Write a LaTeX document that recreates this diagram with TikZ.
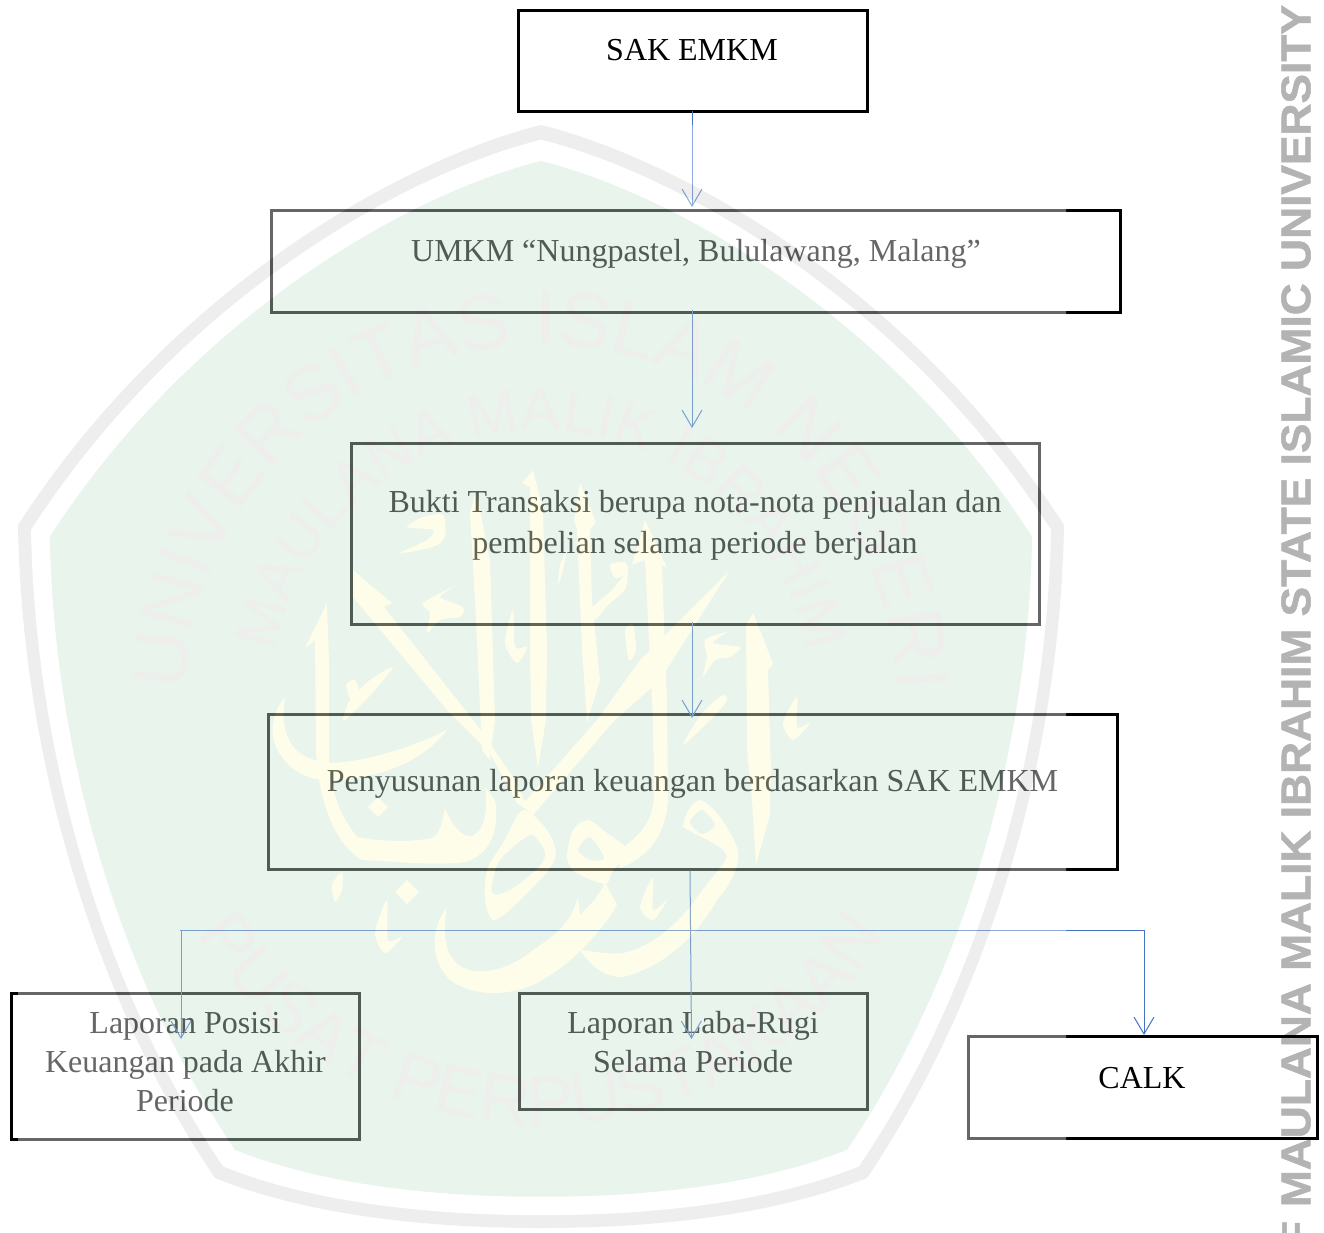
\documentclass[tikz,border=0pt]{standalone}
\usepackage{fontspec}
\setmainfont{Liberation Serif}
\setsansfont{Liberation Sans}
\newfontfamily\sidefont[FakeBold=1.2]{Liberation Sans Bold}
\usetikzlibrary{arrows.meta,decorations.text}
\definecolor{wmgreen}{HTML}{C8E4D4}
\definecolor{wmgray}{HTML}{D6D6D6}
\definecolor{wmyellow}{HTML}{FAFBC8}
\definecolor{wmtext}{HTML}{D6D6D2}
\definecolor{linkblue}{HTML}{4472C4}
\definecolor{sidegray}{HTML}{B3B3B3}
\newcommand{\shieldlayer}[2]{%
  \fill[#1,shift={(541,715)},scale=#2,shift={(-541,-715)}]
    (541,125) .. controls (400,160) and (170,290) .. (18,525)
    .. controls (22,760) and (95,1000) .. (215,1178)
    .. controls (320,1220) and (450,1228) .. (541,1228)
    .. controls (632,1228) and (762,1220) .. (867,1178)
    .. controls (987,1000) and (1060,760) .. (1064,525)
    .. controls (912,290) and (682,160) .. (541,125) -- cycle;}
\newcommand{\blob}[1]{\fill[wmyellow] plot[smooth cycle,tension=.45] coordinates {#1};}
\tikzset{
  x=1pt,y=-1pt,
  flowbox/.style={draw=black,line width=3pt,rectangle,inner sep=0pt},
  flowtext/.style={font=\fontsize{32}{39}\selectfont,align=center,anchor=base,inner sep=0pt},
  flowlink/.style={draw=linkblue,line width=1pt},
  flowhead/.style={flowlink,-{Straight Barb[length=17pt,width=20pt,line width=1pt]}},
  sidetext/.style={rotate=90,text=sidegray,inner sep=0pt}
}
\begin{document}
\begin{tikzpicture}
\useasboundingbox (0,0) rectangle (1324,1232);
\fill[white] (0,0) rectangle (1324,1232);
% side text
\begin{scope}
\clip (0,0) rectangle (1324,1232);
\node[sidetext] (sidemain) at (1296,606) {\resizebox{1202pt}{29pt}{\sidefont MAULANA MALIK IBRAHIM STATE ISLAMIC UNIVERSITY}};
\node[sidetext,anchor=east,font=\sidefont\fontsize{40}{40}\selectfont] (sidecut) at (1296,1221) {F};
\end{scope}
% boxes
\node[flowbox,minimum width=348.5pt,minimum height=101pt] (b1) at (692.75,60.5) {};
\node[flowbox,minimum width=849pt,minimum height=102pt] (b2) at (695.5,261) {};
\node[flowbox,minimum width=688pt,minimum height=181pt] (b3) at (695,533.5) {};
\node[flowbox,minimum width=848.5pt,minimum height=155pt] (b4) at (692.75,791.5) {};
\node[flowbox,minimum width=348pt,minimum height=146pt] (b5) at (185,1066) {};
\node[flowbox,minimum width=348pt,minimum height=116pt] (b6) at (693.5,1051) {};
\node[flowbox,minimum width=348.5pt,minimum height=102pt] (b7) at (1142.75,1087.5) {};
% texts
\node[flowtext] (t1) at (692,60) {SAK EMKM};
\node[flowtext] (t2) at (696,261) {UMKM “Nungpastel, Bululawang, Malang”};
\node[flowtext] (t3a) at (695,512.5) {Bukti Transaksi berupa nota-nota penjualan dan};
\node[flowtext] (t3b) at (695,553.5) {pembelian selama periode berjalan};
\node[flowtext] (t4) at (692.5,791) {Penyusunan laporan keuangan berdasarkan SAK EMKM};
\node[flowtext] (t5a) at (185,1033.5) {Laporan Posisi};
\node[flowtext] (t5b) at (185.5,1072.5) {Keuangan pada Akhir};
\node[flowtext] (t5c) at (185,1111.5) {Periode};
\node[flowtext] (t6a) at (693,1033.5) {Laporan Laba-Rugi};
\node[flowtext] (t6b) at (693,1072.5) {Selama Periode};
\node[flowtext] (t7) at (1142,1088) {CALK};
% connectors
\coordinate (jn) at (690,930);
\coordinate (jl) at (180,930);
\coordinate (jr) at (1144,930);
\coordinate (tl) at (181,1039);
\coordinate (tm) at (691.5,1039);
\coordinate (s1) at (692,111);
\coordinate (e1) at (692,207);
\coordinate (s2) at (692,310);
\coordinate (e2) at (692,428);
\coordinate (s3) at (692,622);
\coordinate (e3) at (692,718);
\coordinate (sl) at (181,930);
\draw[flowhead] (s1) -- (e1);
\draw[flowhead] (s2) -- (e2);
\draw[flowhead] (s3) -- (e3);
\draw[flowhead] (jn |- b4.south) -- (tm);
\draw[flowlink] (jl) -- (jr);
\draw[flowhead] (sl) -- (tl);
\draw[flowhead] (jr) -- (b7.north -| jr);
% translucent watermark on top of everything
\begin{scope}[transparency group,opacity=.4]
\begin{scope}
\clip (18,125) rectangle (1066,1232);
\fill[white] (18,125) rectangle (1066,1232);
\shieldlayer{wmgray}{1}
\shieldlayer{white}{.975}
\shieldlayer{wmgreen}{.939}
\path[decorate,decoration={text along path,text align=center,
   text={|\sffamily\fontsize{78}{78}\selectfont\color{wmtext}|UNIVERSITAS ISLAM NEGERI}}]
   plot[samples=91,domain=178:2] ({541+355*cos(\x)},{700-355*sin(\x)});
\path[decorate,decoration={text along path,text align=center,
   text={|\sffamily\fontsize{60}{60}\selectfont\color{wmtext}|MAULANA MALIK IBRAHIM}}]
   plot[samples=91,domain=175:5] ({541+270*cos(\x)},{700-270*sin(\x)});
\path[decorate,decoration={text along path,text align=center,
   text={|\sffamily\fontsize{70}{70}\selectfont\color{wmtext}|PUSAT PERPUSTAKAAN}}]
   plot[samples=61,domain=215:325] ({541+405*cos(\x)},{720-405*sin(\x)});
% calligraphy: left alif with its long swash
\fill[wmyellow] (327,603) -- (305,648) -- (315,640) -- (316,750)
  .. controls (318,800) and (335,845) .. (362,860)
  .. controls (400,862) and (440,866) .. (465,862)
  .. controls (490,855) and (500,830) .. (495,800) -- (485,787)
  .. controls (488,810) and (485,830) .. (472,836)
  .. controls (462,838) and (452,825) .. (445,808)
  .. controls (442,825) and (440,832) .. (432,838)
  .. controls (410,842) and (385,842) .. (357,837)
  .. controls (340,815) and (332,795) .. (329,760) -- (329,660) -- cycle;
% bowl
\fill[wmyellow] (285,697) .. controls (270,715) and (268,740) .. (282,757)
  .. controls (295,775) and (315,782) .. (335,780)
  .. controls (375,778) and (420,765) .. (447,730)
  .. controls (410,748) and (365,762) .. (330,763)
  .. controls (300,760) and (278,745) .. (285,697) -- cycle;
% big diagonals
\fill[wmyellow] (353,570) -- (392,603) -- (384,607) -- (477,725) -- (513,777) -- (530,812)
   -- (517,803) -- (490,753) -- (447,710) -- (353,597) -- cycle;
\fill[wmyellow] (730,570) -- (660,680) -- (613,722) -- (533,815) -- (522,805) -- (597,720) -- (640,660) -- (690,610) -- cycle;
% loop under the crossing
\fill[wmyellow,even odd rule] plot[smooth cycle,tension=.5] coordinates {(523,810) (547,830) (556,853) (547,872) (513,907) (493,920) (485,900) (487,870) (503,843)}
   plot[smooth cycle,tension=.5] coordinates {(532,835) (545,853) (538,868) (510,890) (492,893) (497,865) (512,848)};
% vertical strokes
\fill[wmyellow] (476,490) -- (490,560) -- (495,720) -- (490,760) -- (482,750) -- (475,600) -- (470,513) -- cycle;
\fill[wmyellow] (533,470) -- (522,483) -- (530,487) -- (530,650) -- (531,720) -- (538,768) -- (546,720) -- (547,650) -- (543,510) -- cycle;
\fill[wmyellow] (580,483) -- (574,520) -- (577,530) -- (582,650) -- (587,722) -- (600,680) -- (592,600) -- (590,530) -- (596,522) -- cycle;
% lam stem, second loop and tail
\fill[wmyellow] (645,520) -- (632,565) -- (645,560) -- (653,720) -- (654,790)
   .. controls (655,815) and (645,835) .. (615,852) -- (620,868)
   .. controls (655,855) and (670,825) .. (668,787) -- (667,700) -- (662,565) -- (667,568) -- cycle;
\fill[wmyellow,even odd rule] plot[smooth cycle,tension=.5] coordinates {(567,857) (573,830) (588,820) (607,833) (627,850) (612,872) (605,884) (575,872)}
   plot[smooth cycle,tension=.5] coordinates {(578,850) (590,837) (604,858) (590,860)};
\fill[wmyellow] (447,907) .. controls (430,930) and (430,960) .. (450,980)
   .. controls (475,998) and (510,995) .. (533,985)
   .. controls (565,970) and (600,935) .. (617,905) -- (605,882)
   .. controls (600,895) and (590,905) .. (580,915) -- (578,897)
   .. controls (570,925) and (555,935) .. (533,950)
   .. controls (515,965) and (490,975) .. (470,970)
   .. controls (450,965) and (440,945) .. (447,907) -- cycle;
% third loop with long tail
\fill[wmyellow,even odd rule] (683,827) .. controls (685,810) and (695,800) .. (700,800)
   .. controls (715,805) and (730,830) .. (737,847)
   .. controls (742,865) and (730,885) .. (717,900)
   .. controls (700,930) and (670,965) .. (623,977)
   .. controls (605,978) and (590,965) .. (580,950)
   .. controls (590,950) and (605,955) .. (623,953)
   .. controls (650,948) and (675,925) .. (690,907)
   .. controls (705,885) and (720,870) .. (727,857)
   .. controls (725,845) and (700,838) .. (683,827) -- cycle
   plot[smooth cycle,tension=.5] coordinates {(690,822) (702,810) (715,825) (702,834)};
% right alif
\fill[wmyellow] (753,613) -- (746,625) -- (747,750) -- (752,800) -- (756,865) -- (770,815) -- (771,770) -- (768,670) -- (773,664) -- (764,640) -- cycle;
% small marks
\blob{(407,527) (423,517) (443,515) (445,537) (433,547) (400,553) (427,540) (433,530)}
\blob{(423,603) (457,585) (440,597) (463,607) (460,617) (440,620) (427,633) (430,613)}
\blob{(393,667) (375,690) (358,708) (343,721) (350,700) (370,680)}
\blob{(346,685) (355,680) (360,695) (352,702)}
\blob{(513,610) (505,643) (517,663) (527,647) (515,647)}
\blob{(567,550) (560,565) (558,585) (563,570)}
\blob{(593,607) (612,590) (627,573) (625,590) (608,605) (595,620)}
\blob{(610,565) (625,562) (628,573) (615,578)}
\blob{(633,625) (636,650) (629,660) (625,630)}
\blob{(705,640) (727,632) (713,643) (740,647) (730,657) (715,660) (703,677) (707,657)}
\blob{(797,697) (783,723) (793,740) (810,723) (797,727)}
\blob{(723,695) (727,700) (717,713) (703,727) (683,745) (697,720) (710,705)}
\blob{(653,877) (640,907) (653,920) (667,900) (653,910)}
\blob{(342,872) (332,885) (335,902) (342,890)}
\blob{(387,900) (375,933) (385,953) (402,937) (388,940)}
\fill[wmyellow] (378,797) -- (388,807) -- (378,817) -- (368,807) -- cycle;
\fill[wmyellow] (407,880) -- (419,892) -- (407,904) -- (395,892) -- cycle;
\end{scope}
\end{scope}
\end{tikzpicture}
\end{document}
